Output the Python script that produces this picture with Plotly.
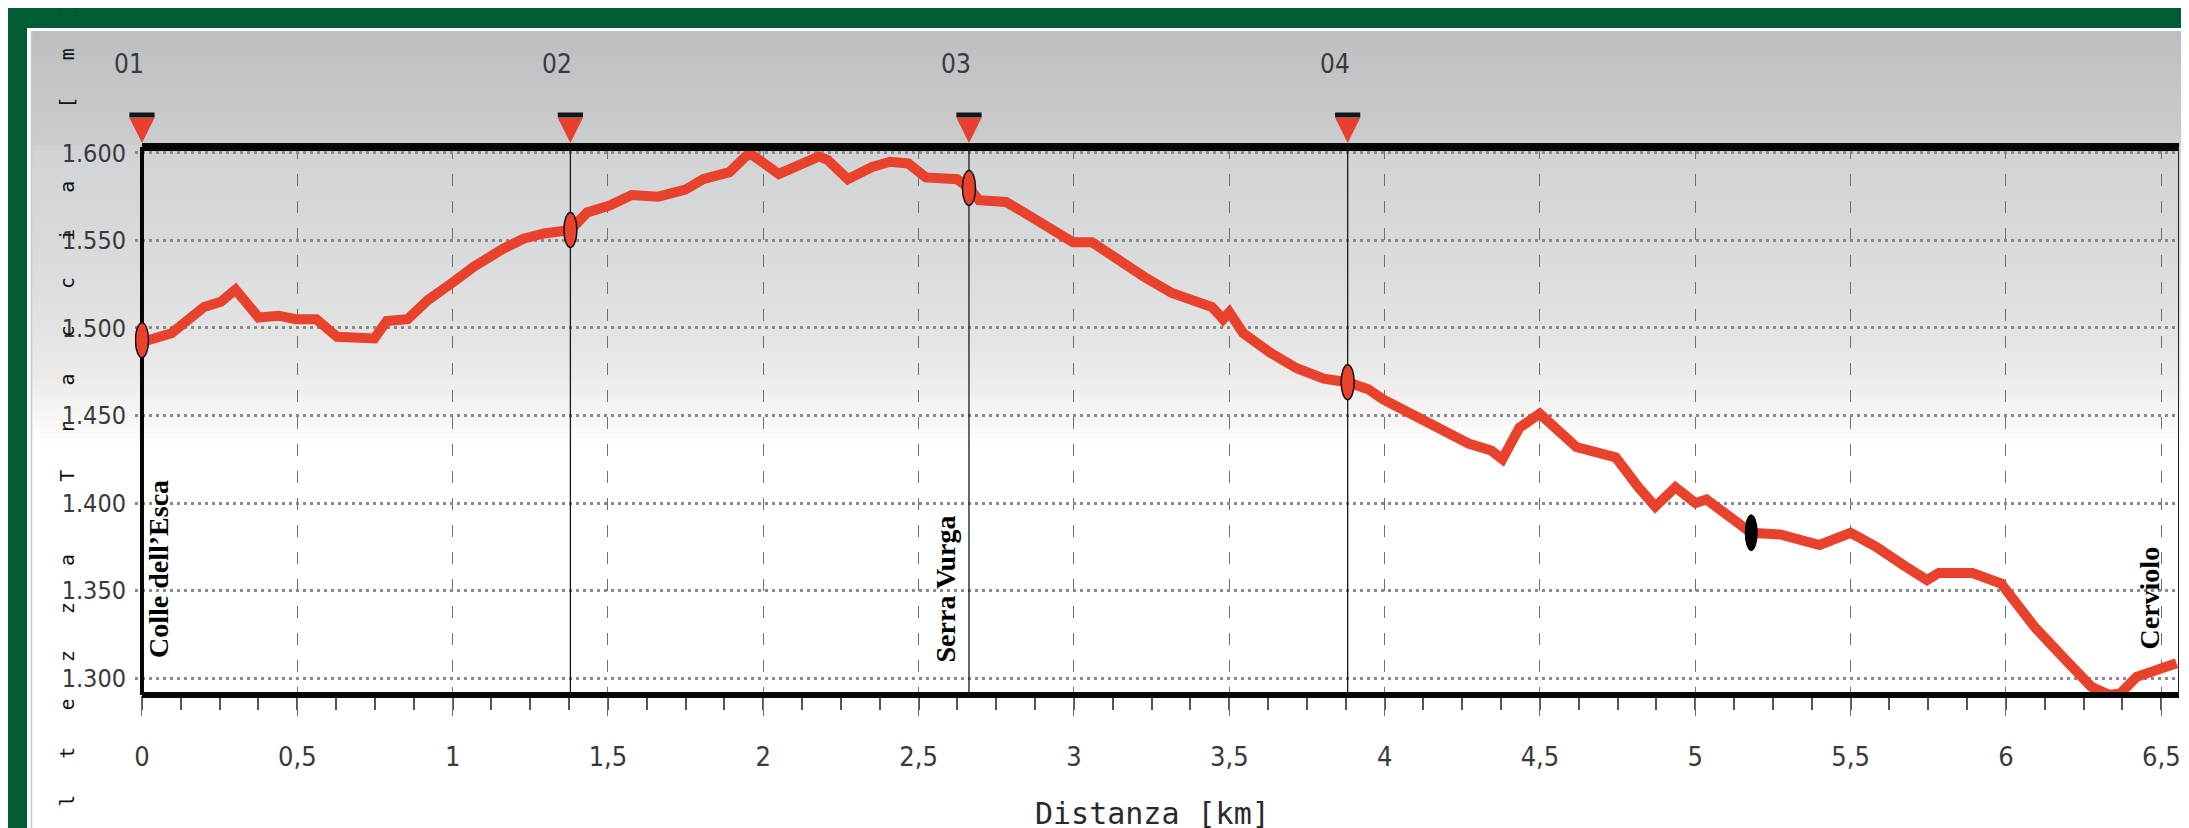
import plotly.graph_objects as go

# ---------------- data ----------------
dist_km = [0.00, 0.095, 0.20, 0.254, 0.301, 0.375, 0.44, 0.495, 0.561, 0.628,
           0.748, 0.788, 0.855, 0.921, 1.00, 1.068, 1.16, 1.228, 1.294, 1.379,
           1.433, 1.505, 1.576, 1.662, 1.749, 1.806, 1.891, 1.955, 2.05, 2.121,
           2.179, 2.207, 2.272, 2.35, 2.408, 2.466, 2.523, 2.624, 2.662, 2.694,
           2.781, 2.839, 2.91, 2.997, 3.058, 3.158, 3.228, 3.315, 3.373, 3.444,
           3.48, 3.50, 3.545, 3.631, 3.717, 3.804, 3.881, 3.947, 3.997, 4.125,
           4.27, 4.343, 4.379, 4.434, 4.499, 4.617, 4.744, 4.817, 4.871, 4.936,
           5.0, 5.036, 5.18, 5.273, 5.40, 5.50, 5.582, 5.674, 5.746, 5.783,
           5.892, 5.984, 6.093, 6.183, 6.275, 6.33, 6.367, 6.421, 6.494, 6.549]
elev_m = [1492, 1497, 1512, 1515, 1522, 1506, 1507, 1505, 1505, 1495,
          1494, 1504, 1505, 1516, 1526, 1535, 1545, 1551, 1554, 1556,
          1566, 1570, 1576, 1575, 1579, 1585, 1589, 1600, 1588, 1594,
          1598, 1596, 1585, 1592, 1595, 1594, 1586, 1585, 1580, 1573,
          1572, 1566, 1558, 1549, 1549, 1537, 1529, 1520, 1516, 1512,
          1505, 1509, 1497, 1486, 1477, 1471, 1469, 1465, 1459, 1447,
          1434, 1430, 1425, 1443, 1451, 1432, 1426, 1409, 1398, 1409,
          1400, 1402, 1383, 1382, 1376, 1383, 1375, 1364, 1356, 1360,
          1360, 1354, 1329, 1312, 1295, 1290.5, 1291, 1300.7, 1304.6, 1308.5]
assert len(dist_km) == len(elev_m)

wp_labels = ["01", "02", "03", "04"]
wp_km = [0.0, 1.379, 2.662, 3.881]
wp_elev = [1493, 1556, 1580, 1469]

pos_km = [5.18]
pos_elev = [1383]

place_names = ["Colle dell’Esca", "Serra Vurga", "Cerviolo"]
place_km = [0.0, 2.662, 6.557]

x_tickvals = [0, 0.5, 1, 1.5, 2, 2.5, 3, 3.5, 4, 4.5, 5, 5.5, 6, 6.5]
x_ticktext = ["0", "0,5", "1", "1,5", "2", "2,5", "3", "3,5", "4", "4,5", "5", "5,5", "6", "6,5"]
y_tickvals = [1300, 1350, 1400, 1450, 1500, 1550, 1600]
y_ticktext = ["1.300", "1.350", "1.400", "1.450", "1.500", "1.550", "1.600"]

x_title = "Distanza [km]"
y_title = "Altezza Traccia [m]"

# ---------------- geometry / style ----------------
W, H = 2189, 828
OFF = 8                                   # page offset of the figure inside the html body
PL, PR, PT, PB = 135, 2179, 147, 695      # plot area (page pixels)
TOP = 100                                 # top of the flag strip
X_RANGE = [-0.0225, 6.557]
X_END = 6.557
Y_RANGE = [1290.3, 1603.4]
FLAG_RANGE = [0, PT - TOP]
TRI_TIP = 4
TRI_BAR = 32

def fx(px):
    return (px - PL) / (PR - PL)

def fy(py):
    return (PB - py) / (PB - TOP)

MAIN_TOP = (PB - PT) / (PB - TOP)

GREEN = "#015b33"
RED = "#e8412c"
COND = "Liberation Sans Narrow, DejaVu Sans Condensed, Arial Narrow, sans-serif"
MONO = "DejaVu Sans Mono, Liberation Mono, monospace"
SERIF = "Liberation Serif, Times New Roman, serif"

def hex2rgb(h):
    h = h.lstrip("#")
    return tuple(int(h[i:i + 2], 16) for i in (0, 2, 4))

def lerp_color(stops, py):
    for (p0, c0), (p1, c1) in zip(stops, stops[1:]):
        if p0 <= py <= p1:
            t = (py - p0) / (p1 - p0) if p1 > p0 else 0
            a, b = hex2rgb(c0), hex2rgb(c1)
            return "rgb(%d,%d,%d)" % tuple(round(a[i] + (b[i] - a[i]) * t) for i in range(3))
    return stops[-1][1]

grad_stops = [(31, "#bcbfc2"), (95, "#c5c6c8"), (145, "#cbcccd"), (150, "#d1d4d6"),
              (250, "#d8dadc"), (330, "#e3e3e3"), (380, "#edeceb"), (420, "#f8f7f6"),
              (445, "#ffffff")]

shapes = []
shapes.append(dict(type="rect", xref="paper", yref="paper", layer="below",
                   x0=fx(-50), x1=fx(2400), y0=fy(28), y1=fy(-50),
                   fillcolor=GREEN, line=dict(width=0)))
shapes.append(dict(type="rect", xref="paper", yref="paper", layer="below",
                   x0=fx(-50), x1=fx(27), y0=fy(900), y1=fy(-50),
                   fillcolor=GREEN, line=dict(width=0)))
step = 6
py = 31
while py < 445:
    shapes.append(dict(type="rect", xref="paper", yref="paper", layer="below",
                       x0=fx(31), x1=fx(2400), y0=fy(py + step + 0.5), y1=fy(py),
                       fillcolor=lerp_color(grad_stops, py + step / 2), line=dict(width=0)))
    py += step
shapes.append(dict(type="line", xref="paper", yref="paper", layer="below",
                   x0=fx(31.5), x1=fx(31.5), y0=fy(900), y1=fy(31),
                   line=dict(color="#c8c8c8", width=1.5)))

# plot frame
shapes.append(dict(type="line", xref="x", yref="y domain", x0=0, x1=X_END, y0=1, y1=1,
                   line=dict(color="#050505", width=8)))
shapes.append(dict(type="line", xref="x", yref="y domain", x0=0, x1=X_END, y0=0, y1=0,
                   line=dict(color="#050505", width=6)))
shapes.append(dict(type="line", xref="x", yref="y domain", x0=0, x1=0, y0=0, y1=1,
                   line=dict(color="#050505", width=4)))
shapes.append(dict(type="line", xref="x", yref="y domain", x0=X_END, x1=X_END, y0=0, y1=1,
                   line=dict(color="#222222", width=2)))

for k in wp_km[1:]:
    shapes.append(dict(type="line", xref="x", yref="y domain", x0=k, x1=k, y0=0, y1=1,
                       line=dict(color="#1a1a1a", width=1.3)))

for k, e in zip(wp_km, wp_elev):
    shapes.append(dict(type="circle", xref="x", yref="y", xsizemode="pixel", ysizemode="pixel",
                       xanchor=k, yanchor=e, x0=-6.5, x1=6.5, y0=-17.5, y1=17.5,
                       fillcolor=RED, line=dict(color="#111111", width=1.5)))
for k, e in zip(pos_km, pos_elev):
    shapes.append(dict(type="circle", xref="x", yref="y", xsizemode="pixel", ysizemode="pixel",
                       xanchor=k, yanchor=e, x0=-6, x1=6, y0=-18, y1=18,
                       fillcolor="#000000", line=dict(color="#000000", width=1)))

annotations = []
for lab, k in zip(wp_labels, wp_km):
    annotations.append(dict(x=k, y=fy(64), xref="x", yref="paper", text=lab, showarrow=False,
                            xshift=4, xanchor="right", yanchor="middle",
                            font=dict(family=COND, size=26, color="#3a3a3a")))

place_shift = [16, -23, -30]
place_bottom = [fy(660), fy(664), fy(652)]
for name, k, sx, yb in zip(place_names, place_km, place_shift, place_bottom):
    annotations.append(dict(x=k, y=yb, xref="x", yref="paper", text=name, showarrow=False,
                            textangle=-90, xshift=sx, xanchor="center", yanchor="bottom",
                            font=dict(family=SERIF, size=28, color="#000000", weight=700)))

nb = "\u00a0"
y_title_spaced = (nb * 3).join(c if c != " " else "" for c in y_title)
annotations.append(dict(x=fx(67), y=fy(428), xref="paper", yref="paper", text=y_title_spaced,
                        showarrow=False, textangle=-90, xanchor="center", yanchor="middle",
                        font=dict(family=MONO, size=20, color="#111111")))
annotations.append(dict(x=fx(1152), y=fy(813), xref="paper", yref="paper", text=x_title,
                        showarrow=False, xanchor="center", yanchor="middle",
                        font=dict(family=MONO, size=30, color="#2a2a2a")))

fig = go.Figure()
fig.add_trace(go.Scatter(x=dist_km, y=elev_m, mode="lines",
                         line=dict(color=RED, width=10), cliponaxis=False,
                         hoverinfo="skip", showlegend=False))
fig.add_trace(go.Scatter(x=wp_km, y=[TRI_TIP] * len(wp_km), xaxis="x2", yaxis="y2",
                         mode="markers",
                         marker=dict(symbol="arrow-down", size=25, color="#e8402e",
                                     line=dict(width=0)),
                         cliponaxis=False, hoverinfo="skip", showlegend=False))
fig.add_trace(go.Scatter(x=wp_km, y=[TRI_BAR] * len(wp_km), xaxis="x2", yaxis="y2",
                         mode="markers",
                         marker=dict(symbol="line-ew", size=18,
                                     line=dict(width=5, color="#151515")),
                         cliponaxis=False, hoverinfo="skip", showlegend=False))

fig.update_layout(
    width=W, height=H, autosize=False,
    margin=dict(l=PL - OFF, r=W - (PR - OFF), t=TOP - OFF, b=H - (PB - OFF), pad=0),
    paper_bgcolor="#ffffff", plot_bgcolor="rgba(0,0,0,0)",
    showlegend=False, shapes=shapes, annotations=annotations,
    xaxis=dict(
        anchor="y", domain=[0, 1],
        range=X_RANGE, tickmode="array", tickvals=x_tickvals, ticktext=x_ticktext,
        showgrid=True, gridcolor="#707070", gridwidth=1.3, griddash="12px,15px",
        ticks="outside", ticklen=20, tickcolor="#6a6a6a", tickwidth=1.3,
        tickfont=dict(family=COND, size=27, color="#3a3a3a"), ticklabelstandoff=18,
        minor=dict(ticks="outside", ticklen=14, tickcolor="#555555", tickwidth=1.5,
                   tickmode="linear", tick0=0, dtick=0.125, showgrid=False),
        zeroline=False, showline=False,
    ),
    yaxis=dict(
        anchor="x", domain=[0, MAIN_TOP],
        range=Y_RANGE, tickmode="array", tickvals=y_tickvals, ticktext=y_ticktext,
        showgrid=True, gridcolor="#8a8a8a", gridwidth=3, griddash="3px,4px",
        ticks="", tickfont=dict(family=COND, size=25, color="#3a3a3a"), ticklabelstandoff=8,
        zeroline=False, showline=False,
    ),
    xaxis2=dict(range=X_RANGE, visible=False, anchor="y2", domain=[0, 1]),
    yaxis2=dict(range=FLAG_RANGE, visible=False, anchor="x2", domain=[MAIN_TOP, 1]),
)

fig.write_html("out.html")
